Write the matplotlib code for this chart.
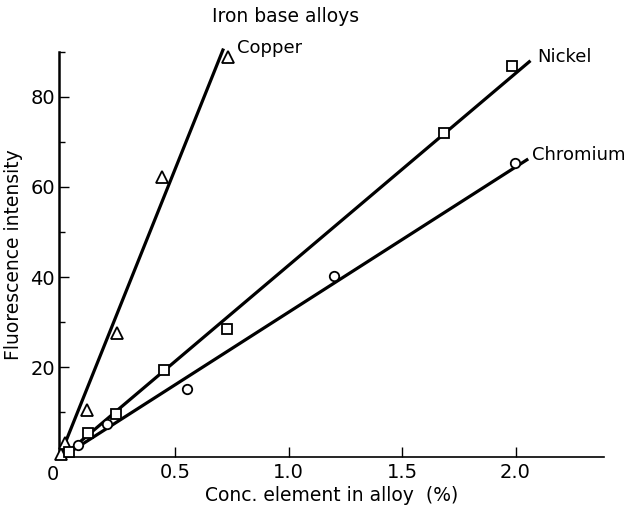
import matplotlib
matplotlib.use("Agg")
import matplotlib.pyplot as plt
from matplotlib.ticker import FixedLocator
import matplotlib.transforms as mtransforms

# ---- data ----
copper_x = [-0.004, 0.015, 0.113, 0.245, 0.441, 0.735]
copper_y = [0.7, 3.2, 10.5, 27.5, 62.3, 88.9]
nickel_x = [0.034, 0.117, 0.238, 0.451, 0.728, 1.683, 1.985]
nickel_y = [1.2, 5.3, 9.6, 19.4, 28.5, 72.0, 86.9]
chromium_x = [0.073, 0.201, 0.551, 1.202, 1.997]
chromium_y = [2.7, 7.5, 15.1, 40.2, 65.2]

# fitted calibration lines (start, end)
copper_line_x = [-0.01, 0.713]
copper_line_y = [0.0, 90.7]
nickel_line_x = [0.0, 2.066]
nickel_line_y = [0.0, 88.0]
chromium_line_x = [0.0, 2.056]
chromium_line_y = [0.0, 66.2]

x_ticks = [0.5, 1.0, 1.5, 2.0]
x_ticklabels = ["0.5", "1.0", "1.5", "2.0"]
y_major = [20, 40, 60, 80]
y_minor = [10, 30, 50, 70, 90]

fig = plt.figure(figsize=(6.36, 5.07), dpi=100)
ax = fig.add_axes([59/636, 1-457.3/507, (604-59)/636, (457.3-51.7)/507])

lw = 2.3
ax.plot(copper_line_x, copper_line_y, color="black", lw=lw, clip_on=False, solid_capstyle="butt")
ax.plot(nickel_line_x, nickel_line_y, color="black", lw=lw, clip_on=False, solid_capstyle="butt")
ax.plot(chromium_line_x, chromium_line_y, color="black", lw=lw, clip_on=False, solid_capstyle="butt")

ax.plot(copper_x, copper_y, linestyle="none", marker="^", ms=8.5, mfc="white", mec="black", mew=1.3, clip_on=False, zorder=3)
ax.plot(nickel_x, nickel_y, linestyle="none", marker="s", ms=6.5, mfc="white", mec="black", mew=1.3, clip_on=False, zorder=3)
ax.plot(chromium_x, chromium_y, linestyle="none", marker="o", ms=6.8, mfc="white", mec="black", mew=1.3, clip_on=False, zorder=3)

ax.set_xlim(-0.012, 2.39)
ax.set_ylim(0, 90)

for s in ["top", "right"]:
    ax.spines[s].set_visible(False)
ax.spines["left"].set_linewidth(1.8)
ax.spines["bottom"].set_linewidth(1.2)

ax.set_xticks(x_ticks)
ax.set_xticklabels(x_ticklabels)
ax.yaxis.set_major_locator(FixedLocator(y_major))
ax.yaxis.set_minor_locator(FixedLocator(y_minor))
ax.tick_params(axis="both", which="major", direction="in", length=7, width=1.0, labelsize=14, pad=4)
ax.tick_params(axis="y", which="major", pad=3)
ax.tick_params(axis="y", which="minor", direction="in", length=4.5, width=1.0)

# lone "0" at the origin corner
trans = mtransforms.blended_transform_factory(ax.transData, ax.transAxes)
ax.text(-0.04, -0.02, "0", transform=trans, ha="center", va="top", fontsize=14)

ax.set_xlabel("Conc. element in alloy  (%)", fontsize=13.5, labelpad=3)
ax.set_ylabel("Fluorescence intensity", fontsize=13.5, labelpad=5)

ax.text(0.773, 90.8, "Copper", fontsize=13, ha="left", va="center", clip_on=False)
ax.text(2.095, 88.8, "Nickel", fontsize=13, ha="left", va="center", clip_on=False)
ax.text(2.073, 67.1, "Chromium", fontsize=13, ha="left", va="center", clip_on=False)

fig.text(286/636, 1-17/507, "Iron base alloys", fontsize=13.5, ha="center", va="center")

fig.savefig("out.png", dpi=100)
